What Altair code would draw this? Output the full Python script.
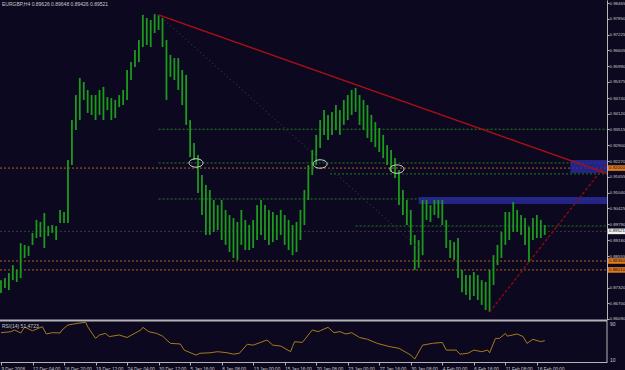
import altair as alt
import pandas as pd

BG = "#0c0820"
GREEN_BAR = "#1c9a1c"
AXIS_GRAY = "#b4b4b4"
TXT = "#c8c8c8"
FONT = "Liberation Sans"

# ---- price bars (each entry = two H4 bars: high / low) ----
highs = [0.8761, 0.8769, 0.8789, 0.8820, 0.8801, 0.8906, 0.8899, 0.8895, 0.8946, 0.8997,
         0.8989, 0.9024, 0.8973, 0.8977, 0.8973, 0.9036, 0.9028, 0.9232, 0.9388, 0.9486,
         0.9553, 0.9537, 0.9506, 0.9486, 0.9486, 0.9506, 0.9518, 0.9478, 0.9474, 0.9467,
         0.9486, 0.9506, 0.9584, 0.9615, 0.9662, 0.9702, 0.9800, 0.9788, 0.9780, 0.9803,
         0.9800, 0.9788, 0.9702, 0.9643, 0.9631, 0.9631, 0.9584, 0.9565, 0.9388, 0.9298,
         0.9251, 0.9173, 0.9134, 0.9114, 0.9075, 0.9055, 0.9075, 0.9036, 0.9016, 0.9004,
         0.8989, 0.9036, 0.8997, 0.8977, 0.8997, 0.9055, 0.9075, 0.9055, 0.9036, 0.9028,
         0.9016, 0.9036, 0.9016, 0.8997, 0.8977, 0.8989, 0.9036, 0.9114, 0.9212, 0.9271,
         0.9330, 0.9388, 0.9427, 0.9408, 0.9420, 0.9447, 0.9427, 0.9467, 0.9486, 0.9506,
         0.9514, 0.9486, 0.9467, 0.9447, 0.9408, 0.9380, 0.9357, 0.9330, 0.9290, 0.9271,
         0.9239, 0.9192, 0.9114, 0.9075, 0.9036, 0.8938, 0.8918, 0.9075, 0.9075, 0.9055,
         0.9075, 0.9075, 0.9075, 0.8997, 0.8918, 0.8910, 0.8926, 0.8801, 0.8781, 0.8781,
         0.8793, 0.8781, 0.8761, 0.8754, 0.8801, 0.8859, 0.8899, 0.8950, 0.9028, 0.9028,
         0.9067, 0.9036, 0.9016, 0.9004, 0.8969, 0.9004, 0.9016, 0.8997, 0.8977]
lows = [0.8711, 0.8730, 0.8722, 0.8761, 0.8754, 0.8769, 0.8848, 0.8856, 0.8899, 0.8926,
        0.8930, 0.8887, 0.8934, 0.8946, 0.8918, 0.8985, 0.8985, 0.8985, 0.9212, 0.9349,
        0.9388, 0.9467, 0.9416, 0.9408, 0.9388, 0.9408, 0.9388, 0.9427, 0.9388, 0.9396,
        0.9439, 0.9447, 0.9467, 0.9545, 0.9596, 0.9615, 0.9674, 0.9682, 0.9674, 0.9729,
        0.9741, 0.9674, 0.9467, 0.9557, 0.9545, 0.9506, 0.9447, 0.9369, 0.9243, 0.9232,
        0.9102, 0.9016, 0.8938, 0.8938, 0.8950, 0.8957, 0.8918, 0.8899, 0.8871, 0.8848,
        0.8840, 0.8899, 0.8879, 0.8879, 0.8887, 0.8918, 0.8938, 0.8918, 0.8899, 0.8910,
        0.8918, 0.8938, 0.8899, 0.8879, 0.8859, 0.8871, 0.8918, 0.8977, 0.9075, 0.9173,
        0.9212, 0.9279, 0.9330, 0.9310, 0.9330, 0.9349, 0.9330, 0.9369, 0.9388, 0.9408,
        0.9420, 0.9369, 0.9349, 0.9318, 0.9302, 0.9282, 0.9263, 0.9239, 0.9212, 0.9185,
        0.9161, 0.9055, 0.9016, 0.8977, 0.8899, 0.8801, 0.8809, 0.8859, 0.8997, 0.8989,
        0.9016, 0.9004, 0.8977, 0.8887, 0.8848, 0.8840, 0.8769, 0.8714, 0.8703, 0.8683,
        0.8699, 0.8683, 0.8664, 0.8644, 0.8636, 0.8742, 0.8820, 0.8848, 0.8899, 0.8918,
        0.8950, 0.8950, 0.8938, 0.8899, 0.8832, 0.8918, 0.8926, 0.8926, 0.8938]
bar_index = [2 * i for i in range(len(highs))]

# ---- RSI(14) ----
rsi_bar = [0, 5, 7, 10, 12, 16, 21, 23, 26, 30, 31, 34, 39, 43, 44, 48, 50, 53, 55, 60,
           64, 71, 72, 75, 79, 82, 86, 91, 93, 99, 101, 106, 110, 115, 118, 121, 125, 128,
           135, 138, 142, 147, 148, 149, 153, 158, 161, 162, 166, 169, 172, 175, 178, 182,
           186, 191, 197, 202, 208, 210, 214, 219, 224, 226, 231, 233, 237, 240, 244, 247,
           248, 251, 253, 256, 257, 262, 265, 267, 270, 274, 276]
rsi_val = [70.7, 72.9, 76.7, 70, 83, 75, 84, 67.8, 70.7, 70, 76.7, 87.8, 91.5, 93.7, 84, 58,
           65.6, 69, 62, 65.6, 60, 76.7, 82.6, 72.9, 69, 63, 47, 45.6, 32, 21, 25, 26, 28.5,
           26, 23, 25, 45, 43, 54.4, 43, 41, 28.5, 40, 50.7, 49, 76.7, 73, 75, 82.6, 70.7,
           73, 67.8, 70.7, 60, 56, 47, 40, 36, 21, 12, 43, 47, 49, 32, 32, 23, 25, 32, 28.5,
           32, 26, 58, 58, 69, 63, 67.8, 62, 47, 56, 50.7, 53]

# ---- axes ----
time_labels = ["9 Dec 2008", "12 Dec 04:00", "16 Dec 20:00", "19 Dec 12:00", "24 Dec 04:00",
               "30 Dec 12:00", "5 Jan 16:00", "8 Jan 08:00", "13 Jan 00:00", "15 Jan 16:00",
               "20 Jan 08:00", "23 Jan 00:00", "27 Jan 16:00", "30 Jan 08:00", "4 Feb 00:00",
               "6 Feb 16:00", "11 Feb 08:00", "16 Feb 00:00"]
time_ticks = [16 * k for k in range(len(time_labels))]
price_ticks = [0.98465, 0.97850, 0.97225, 0.96605, 0.95990, 0.95375, 0.94740, 0.94120,
               0.93515, 0.92900, 0.92270, 0.91655, 0.91040, 0.90425, 0.89790, 0.89180,
               0.88555, 0.87320, 0.86700, 0.86090]

# ---- horizontal levels ----
level_price = [0.9352, 0.9220, 0.9200, 0.9177, 0.9079, 0.8973, 0.89521, 0.8836, 0.8801]
level_start = [80, 80, -0.5, 167, 80, 180, -0.5, -0.5, -0.5]
level_color = ["#1f801f", "#1f801f", "#b8601a", "#1f801f", "#1f801f", "#1f801f",
               "#3a3a3a", "#b8601a", "#b8601a"]

# ---- zones ----
zone_start = [212, 289]
zone_top = [0.9087, 0.9232]
zone_bottom = [0.9059, 0.9181]

# ---- trend lines ----
trend_x1 = [80, 248, 80]
trend_y1 = [0.9800, 0.8636, 0.9800]
trend_x2 = [307.6, 307.6, 213]
trend_y2 = [0.9179, 0.9220, 0.8879]
trend_color = ["#a81010", "#8a0c0c", "#2c2c40"]
trend_dash = ["solid", "dash", "dot"]

# ---- circled points ----
ring_bar = [99, 162, 201]
ring_price = [0.9220, 0.9216, 0.9196]

# ---- highlighted axis labels ----
tag_price = [0.9200, 0.89521, 0.8836, 0.8801]
tag_text = ["0.92000", "0.89521", "0.88360", "0.88010"]
tag_color = ["#e07a20", "#f0f0f0", "#e07a20", "#e07a20"]

header = "EURGBP,H4  0.89626 0.89648 0.89426 0.89521"
rsi_title = "RSI(14) 51.4723"

XMAX = 307.6
xs = alt.Scale(domain=[-0.5, XMAX], range=[0, 607], nice=False, zero=False)
ps = alt.Scale(domain=[0.86049, 0.98583], range=[320, 0], nice=False, zero=False)
rs = alt.Scale(domain=[5.6, 94.4], range=[362, 322], nice=False, zero=False)

bars_df = pd.DataFrame({"bar": bar_index, "high": highs, "low": lows})
rsi_df = pd.DataFrame({"bar": rsi_bar, "rsi": rsi_val})
lev_df = pd.DataFrame({"price": level_price, "start": level_start, "end": XMAX, "color": level_color})
zone_df = pd.DataFrame({"start": zone_start, "end": XMAX, "top": zone_top, "bottom": zone_bottom})
trend_df = pd.DataFrame({"x1": trend_x1, "y1": trend_y1, "x2": trend_x2, "y2": trend_y2,
                         "color": trend_color, "dash": trend_dash})
ring_df = pd.DataFrame({"bar": ring_bar, "price": ring_price})
tag_df = pd.DataFrame({"price": tag_price, "text": tag_text, "color": tag_color})
tag_df["hi"] = tag_df["price"] + 0.0011
tag_df["lo"] = tag_df["price"] - 0.0011

label_expr = "[" + ",".join("'%s'" % t for t in time_labels) + "][round(datum.value/16)]"

FS = 4.4
x_axis = alt.Axis(values=time_ticks, labelExpr=label_expr, orient="bottom", title=None,
                  grid=False, domainColor=AXIS_GRAY, tickColor=AXIS_GRAY, tickSize=3,
                  labelColor=TXT, labelFont=FONT, labelFontSize=4.6, labelAlign="left",
                  labelBaseline="top", labelPadding=1, labelFlush=False,
                  labelOverlap=False)
y_axis = alt.Axis(values=price_ticks, format=".5f", orient="right", title=None, grid=False,
                  domainColor=AXIS_GRAY, tickColor=AXIS_GRAY, tickSize=2, labelColor=TXT,
                  labelFont=FONT, labelFontSize=FS, labelAlign="left", labelBaseline="middle",
                  labelPadding=0, labelFlush=False, labelOverlap=False)

levels = alt.Chart(lev_df).mark_rule(strokeDash=[2, 2], strokeWidth=1).encode(
    x=alt.X("start:Q", scale=xs, axis=x_axis), x2="end:Q",
    y=alt.Y("price:Q", scale=ps, axis=None),
    color=alt.Color("color:N", scale=None))

zones = alt.Chart(zone_df).mark_rect(color="#2a2aa0", opacity=0.8).encode(
    x=alt.X("start:Q", scale=xs, axis=x_axis), x2="end:Q",
    y=alt.Y("top:Q", scale=ps, axis=None), y2="bottom:Q")

bars = alt.Chart(bars_df).mark_rule(color=GREEN_BAR, strokeWidth=1.8).encode(
    x=alt.X("bar:Q", scale=xs, axis=x_axis),
    y=alt.Y("high:Q", scale=ps, axis=y_axis), y2="low:Q")

trends = alt.Chart(trend_df).mark_rule(strokeWidth=1.4).encode(
    x=alt.X("x1:Q", scale=xs, axis=x_axis), x2="x2:Q",
    y=alt.Y("y1:Q", scale=ps, axis=None), y2="y2:Q",
    color=alt.Color("color:N", scale=None),
    strokeDash=alt.StrokeDash("dash:N", scale=alt.Scale(domain=["solid", "dash", "dot"],
                                                         range=[[1, 0], [3, 2], [1, 3]]),
                              legend=None))

ell = "M -1 0 A 1 0.6 0 1 0 1 0 A 1 0.6 0 1 0 -1 0 Z"
rings = alt.Chart(ring_df).mark_point(shape=ell, size=196, filled=False, color="#d8d8d8",
                                      strokeWidth=1, opacity=1).encode(
    x=alt.X("bar:Q", scale=xs, axis=x_axis),
    y=alt.Y("price:Q", scale=ps, axis=None))

tag_box = alt.Chart(tag_df).mark_rect().encode(
    x=alt.value(608), x2=alt.value(640),
    y=alt.Y("hi:Q", scale=ps, axis=None), y2="lo:Q",
    color=alt.Color("color:N", scale=None))
tag_txt = alt.Chart(tag_df).mark_text(align="left", baseline="middle", font=FONT, fontSize=FS,
                                      color="#101010").encode(
    x=alt.value(609), y=alt.Y("price:Q", scale=ps, axis=None), text="text:N")

sep = alt.Chart(pd.DataFrame({"k": [0]})).mark_rule(color=AXIS_GRAY, strokeWidth=2).encode(
    x=alt.value(0), x2=alt.value(607), y=alt.value(320.5))
rsi_axis_line = alt.Chart(pd.DataFrame({"k": [0]})).mark_rule(color=AXIS_GRAY, strokeWidth=1).encode(
    x=alt.value(607), y=alt.value(321), y2=alt.value(362))

rsi_line = alt.Chart(rsi_df).mark_line(color="#a67c1a", strokeWidth=1).encode(
    x=alt.X("bar:Q", scale=xs, axis=x_axis),
    y=alt.Y("rsi:Q", scale=rs, axis=None))

rsi_lab = alt.Chart(pd.DataFrame({"v": [90, 10], "t": ["90", "10"]})).mark_text(
    align="left", baseline="middle", font=FONT, fontSize=5, color=TXT).encode(
    x=alt.value(610), y=alt.Y("v:Q", scale=rs, axis=None), text="t:N")

texts = alt.Chart(pd.DataFrame({"t": [header, rsi_title], "yy": [4, 326]})).mark_text(
    align="left", baseline="middle", font=FONT, fontSize=5, color=TXT).encode(
    x=alt.value(2), y=alt.Y("yy:Q", scale=alt.Scale(domain=[0, 370], range=[0, 370]), axis=None),
    text="t:N")

chart = alt.layer(levels, zones, bars, trends, rings, sep, rsi_axis_line, rsi_line, rsi_lab,
                  tag_box, tag_txt, texts).resolve_scale(y="independent").properties(
    width=607, height=362,
    autosize=alt.AutoSizeParams(type="none"),
    padding={"left": 0, "top": 0, "right": 18, "bottom": 8},
    background=BG,
).configure_view(stroke=None)

chart.save("out.html", embed_options={"renderer": "svg", "actions": False})
